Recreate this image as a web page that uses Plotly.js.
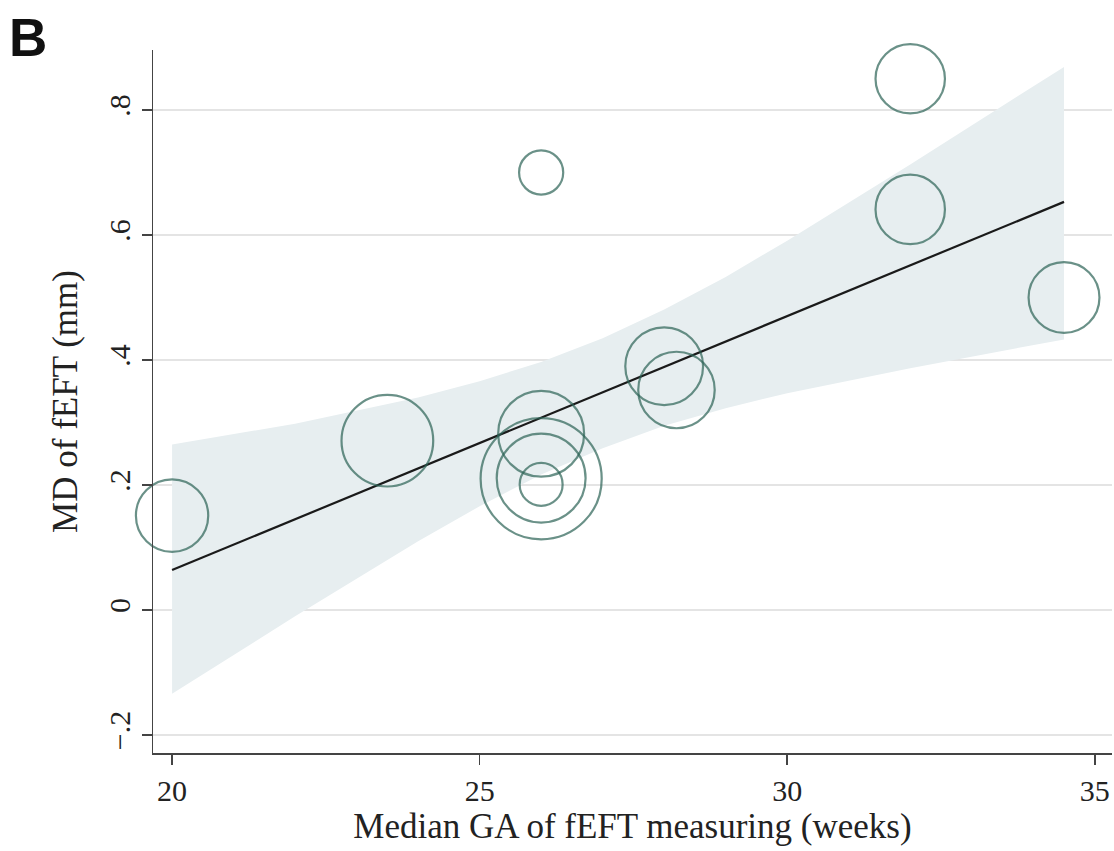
<!DOCTYPE html>
<html>
<head>
<meta charset="utf-8">
<script src="https://cdn.plot.ly/plotly-3.0.1.min.js"></script>
<style>html,body{margin:0;padding:0;background:#fff;}#chart{width:1114px;height:851px;}</style>
</head>
<body>
<div id="chart"></div>
<script>
// Study-level data (median gestational age, mean difference, relative weight)
const studyGA = [20, 23.5, 26, 26, 26, 26, 26, 28, 28.2, 32, 32, 34.5];
const studyMD = [0.151, 0.271, 0.70, 0.282, 0.210, 0.211, 0.201, 0.390, 0.352, 0.850, 0.641, 0.500];
const studyWeight = [51, 82, 19, 72, 143, 77, 18, 59, 57, 47, 47, 49];

// Fitted meta-regression line
const fitGA = [20, 34.5];
const fitMD = [0.064, 0.653];

// 95% confidence band
const bandGA    = [20, 22, 24, 25, 26, 27, 28, 29, 30, 32, 34.5];
const bandUpper = [0.265, 0.298, 0.340, 0.366, 0.397, 0.435, 0.481, 0.533, 0.591, 0.713, 0.869];
const bandLower = [-0.134, -0.010, 0.110, 0.166, 0.217, 0.259, 0.295, 0.323, 0.347, 0.387, 0.433];

// Axis ticks
const xTicks = [20, 25, 30, 35];
const yTicks = [-0.2, 0, 0.2, 0.4, 0.6, 0.8];
const yTickText = ['\u2212.2', '0', '.2', '.4', '.6', '.8'];

const bandX = bandGA.concat(bandGA.slice().reverse());
const bandY = bandUpper.concat(bandLower.slice().reverse());

const traces = [
  {
    x: bandX, y: bandY, type: 'scatter', mode: 'lines',
    fill: 'toself', fillcolor: '#e7eef0',
    line: {width: 0, color: 'rgba(0,0,0,0)'},
    hoverinfo: 'skip', showlegend: false
  },
  {
    x: fitGA, y: fitMD, type: 'scatter', mode: 'lines',
    line: {color: '#1a1a1a', width: 2.2},
    showlegend: false
  },
  {
    x: studyGA, y: studyMD, type: 'scatter', mode: 'markers',
    cliponaxis: false,
    marker: {
      size: studyWeight, sizemode: 'area', sizeref: 0.0195,
      color: 'rgba(0,0,0,0)',
      line: {color: '#2c6356', width: 2.2}
    },
    showlegend: false
  }
];

const layout = {
  width: 1114, height: 851,
  margin: {l: 153, r: 2, t: 50, b: 98},
  paper_bgcolor: '#ffffff', plot_bgcolor: '#ffffff',
  font: {family: '"Liberation Serif", "DejaVu Serif", serif', color: '#222'},
  xaxis: {
    range: [19.69, 35.28],
    tickvals: xTicks, ticktext: xTicks.map(String),
    ticks: 'outside', ticklen: 10, tickwidth: 1.5, tickcolor: '#444',
    tickfont: {size: 30, color: '#222'},
    showline: true, linecolor: '#444', linewidth: 1.5,
    showgrid: false, zeroline: false,
    title: {text: 'Median GA of fEFT measuring (weeks)', font: {size: 35, color: '#222'}, standoff: 8}
  },
  yaxis: {
    range: [-0.2288, 0.896],
    tickvals: yTicks, ticktext: yTickText, tickangle: -90,
    ticks: 'outside', ticklen: 10, tickwidth: 1.5, tickcolor: '#444',
    tickfont: {size: 30, color: '#222'},
    showline: true, linecolor: '#444', linewidth: 1.5,
    showgrid: true, gridcolor: '#e4e4e4', gridwidth: 1.5,
    zeroline: false,
    title: {text: 'MD of fEFT (mm)', font: {size: 35, color: '#222'}, standoff: 14}
  },
  annotations: [{
    text: '<b>B</b>', xref: 'paper', yref: 'paper',
    x: 0, y: 1, xanchor: 'left', yanchor: 'top', showarrow: false,
    xshift: -146, yshift: 44,
    font: {family: '"Liberation Sans", Arial, sans-serif', size: 53, color: '#111'}
  }]
};

Plotly.newPlot('chart', traces, layout, {displayModeBar: false, staticPlot: true});
</script>
</body>
</html>
